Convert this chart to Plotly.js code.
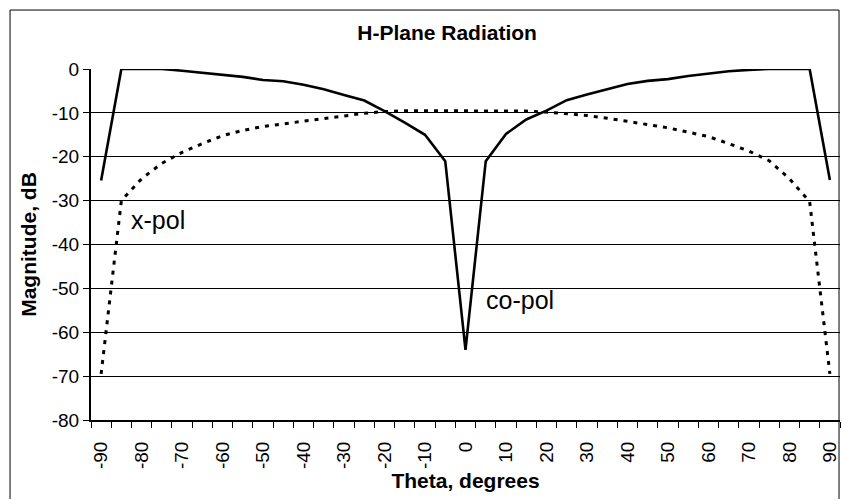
<!DOCTYPE html>
<html>
<head>
<meta charset="utf-8">
<script src="https://cdn.plot.ly/plotly-3.0.1.min.js"></script>
<style>
  html, body { margin: 0; padding: 0; background: #fff; }
  #chart { width: 842px; height: 500px; }
</style>
</head>
<body>
<div id="chart"></div>
<script>
// Category angles (degrees)
const theta = [-90, -85, -80, -75, -70, -65, -60, -55, -50, -45, -40, -35, -30, -25, -20, -15, -10, -5,
               0, 5, 10, 15, 20, 25, 30, 35, 40, 45, 50, 55, 60, 65, 70, 75, 80, 85, 90];

// Co-polarised magnitude (dB)
const coPol = [-25.4, 0, 0, 0, -0.4, -0.9, -1.4, -1.8, -2.5, -2.8, -3.6, -4.6, -5.9, -7.2, -9.6, -12.2, -15.0, -21.0,
               -64.0, -21.0, -14.8, -11.5, -9.5, -7.1, -5.8, -4.6, -3.4, -2.7, -2.3, -1.6, -1.0, -0.5, -0.2, 0, 0, 0, -25.3];

// Cross-polarised magnitude (dB)
const xPol = [-69.5, -30.0, -25.0, -21.5, -19.0, -17.0, -15.2, -14.0, -13.1, -12.5, -11.8, -11.2, -10.7, -10.1, -9.7, -9.5, -9.5, -9.5,
              -9.5, -9.5, -9.5, -9.6, -9.8, -10.2, -10.6, -11.2, -11.9, -12.6, -13.4, -14.4, -15.4, -17.0, -18.7, -20.9, -25.0, -30.2, -69.5];

// Axis tick labels
const xTickVals = [-90, -80, -70, -60, -50, -40, -30, -20, -10, 0, 10, 20, 30, 40, 50, 60, 70, 80, 90];
const xTickText = ['-90', '-80', '-70', '-60', '-50', '-40', '-30', '-20', '-10', '0', '10', '20', '30', '40', '50', '60', '70', '80', '90'];
const yTickVals = [0, -10, -20, -30, -40, -50, -60, -70, -80];
const yTickText = ['0', '-10', '-20', '-30', '-40', '-50', '-60', '-70', '-80'];

const FONT = '"Liberation Sans", Arial, sans-serif';

const traces = [
  {
    x: theta, y: coPol, type: 'scatter', mode: 'lines', name: 'co-pol',
    line: { color: '#000', width: 2.6 }
  },
  {
    x: theta, y: xPol, type: 'scatter', mode: 'lines', name: 'x-pol',
    line: { color: '#000', width: 3, dash: '4px,6px' }
  }
];

const layout = {
  width: 842, height: 500,
  margin: { l: 91, r: 2, t: 69, b: 80, pad: 0 },
  paper_bgcolor: '#fff', plot_bgcolor: '#fff',
  showlegend: false,
  font: { family: FONT, color: '#000', size: 19 },
  title: {
    text: '<b>H-Plane Radiation</b>',
    font: { family: FONT, size: 21, color: '#000' },
    x: 0.531, xanchor: 'center', xref: 'container',
    y: 0.934, yanchor: 'middle', yref: 'container'
  },
  xaxis: {
    range: [-92.5, 92.5],
    tickmode: 'array', tickvals: xTickVals, ticktext: xTickText,
    tickangle: -90,
    ticks: '',
    ticklabelstandoff: 12,
    minor: { tickmode: 'linear', tick0: -92.5, dtick: 5, ticks: 'outside', ticklen: 6, tickwidth: 1, tickcolor: '#000', showgrid: false },
    showline: true, linecolor: '#000', linewidth: 2,
    showgrid: false, zeroline: false,
    tickfont: { family: FONT, size: 19, color: '#000' },
    title: { text: '<b>Theta, degrees</b>', font: { family: FONT, size: 21, color: '#000' }, standoff: 4 },
    fixedrange: true
  },
  yaxis: {
    range: [-80, 0],
    tickmode: 'array', tickvals: yTickVals, ticktext: yTickText,
    ticks: 'outside', ticklen: 6, tickwidth: 1, tickcolor: '#000',
    showline: true, linecolor: '#000', linewidth: 2,
    showgrid: true, gridcolor: '#000', gridwidth: 1,
    zeroline: false,
    tickfont: { family: FONT, size: 19, color: '#000' },
    title: { text: '<b>Magnitude, dB</b>', font: { family: FONT, size: 21, color: '#000' }, standoff: 9 },
    fixedrange: true
  },
  annotations: [
    { x: -83.1, y: -34.4, xref: 'x', yref: 'y', text: 'x-pol', showarrow: false,
      xanchor: 'left', yanchor: 'middle', font: { family: FONT, size: 25, color: '#000' } },
    { x: 4.6, y: -52.6, xref: 'x', yref: 'y', text: 'co-pol', showarrow: false,
      xanchor: 'left', yanchor: 'middle', font: { family: FONT, size: 25, color: '#000' } }
  ],
  shapes: [
    { type: 'path', xref: 'paper', yref: 'paper',
      path: 'M -0.1081,-0.225 L -0.1081,1.168 L 0.9987,1.168 L 0.9987,-0.225',
      line: { color: '#000', width: 1 } }
  ]
};

Plotly.newPlot('chart', traces, layout, { staticPlot: true, displayModeBar: false });
</script>
</body>
</html>
